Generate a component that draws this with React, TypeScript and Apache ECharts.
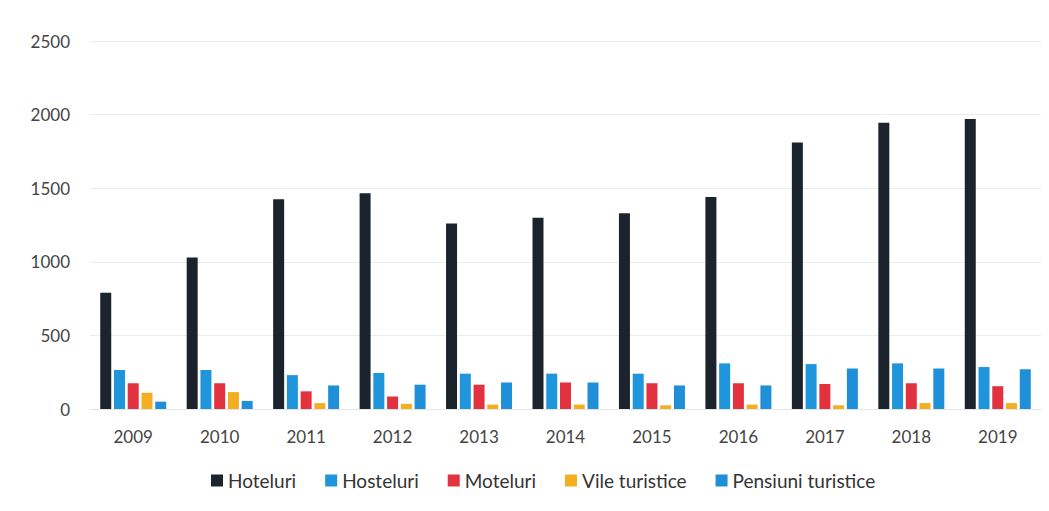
import React, { useEffect, useRef } from "react";
import * as echarts from "echarts";

const years = ["2009", "2010", "2011", "2012", "2013", "2014", "2015", "2016", "2017", "2018", "2019"];
const hoteluri = [790, 1030, 1425, 1465, 1260, 1300, 1330, 1440, 1810, 1945, 1970];
const hosteluri = [265, 265, 230, 245, 240, 240, 240, 310, 305, 310, 285];
const moteluri = [175, 175, 120, 85, 165, 180, 175, 175, 170, 175, 155];
const vile = [110, 115, 40, 35, 30, 30, 25, 30, 25, 40, 40];
const pensiuni = [50, 55, 160, 165, 180, 180, 160, 160, 275, 275, 270];
const seriesNames = ["Hoteluri", "Hosteluri", "Moteluri", "Vile turistice", "Pensiuni turistice"];
const seriesColors = ["#1b242c", "#1f95dc", "#e3323f", "#f4ae22", "#1f8fd8"];

export default function App() {
  const ref = useRef<HTMLDivElement>(null);
  useEffect(() => {
    document.body.style.margin = "0";
    const chart = echarts.init(ref.current!, null, { renderer: "svg" });
    const data = [hoteluri, hosteluri, moteluri, vile, pensiuni];
    const font = "Lato, 'Open Sans', sans-serif";
    chart.setOption({
      animation: false,
      backgroundColor: "#ffffff",
      textStyle: { fontFamily: font },
      grid: { left: 90, right: 8, top: 41, bottom: 102, containLabel: false },
      legend: {
        bottom: 16,
        left: 206,
        itemWidth: 12,
        itemHeight: 12,
        itemGap: 29,
        icon: "rect",
        textStyle: { fontSize: 19, color: "#333", fontFamily: font },
        data: seriesNames,
      },
      xAxis: {
        type: "category",
        data: years,
        axisLine: { show: true, lineStyle: { color: "#e6e6e6" } },
        axisTick: { show: false },
        axisLabel: { fontSize: 17, color: "#444", margin: 19, fontFamily: font },
      },
      yAxis: {
        type: "value",
        min: 0,
        max: 2500,
        interval: 500,
        axisLine: { show: false },
        axisTick: { show: false },
        splitLine: { lineStyle: { color: "#ececec" } },
        axisLabel: {
          fontSize: 17,
          color: "#444",
          margin: 20,
          fontFamily: font,
          formatter: (v: number) => String(v),
        },
      },
      series: seriesNames.map((n, i) => ({
        name: n,
        type: "bar",
        data: data[i],
        barWidth: 11,
        barGap: "25%",
        itemStyle: { color: seriesColors[i] },
      })),
    });
    return () => chart.dispose();
  }, []);
  return <div ref={ref} style={{ width: 1049, height: 511 }} />;
}
